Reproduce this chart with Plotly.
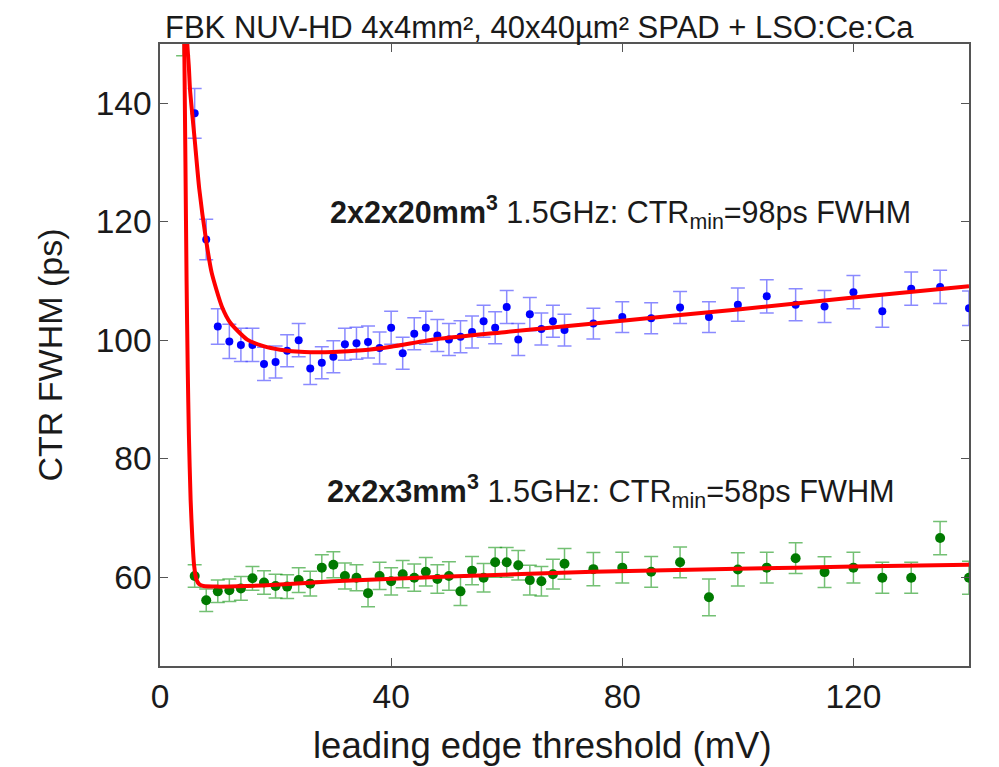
import plotly.graph_objects as go

# ---- data ----
# 2x2x20 mm^3 crystal (blue)
x_20 = [6, 8, 10, 12, 14, 16, 18, 20, 22, 24, 26, 28, 30, 32, 34, 36, 38, 40, 42, 44, 46, 48,
        50, 52, 54, 56, 58, 60, 62, 64, 66, 68, 70, 75, 80, 85, 90, 95, 100, 105, 110, 115,
        120, 125, 130, 135, 140]
y_20 = [138.3, 117.0, 102.3, 99.8, 99.2, 99.2, 96.0, 96.3, 98.2, 100.0, 95.2, 96.2, 97.2,
        99.3, 99.5, 99.7, 98.7, 102.1, 97.8, 101.1, 102.1, 100.8,
        100.1, 100.6, 101.4, 103.2, 102.1, 105.6, 100.1, 104.4, 101.9, 103.2, 101.7,
        102.8, 103.9, 103.7, 105.5, 103.9, 106.0, 107.4, 106.0, 105.7, 108.1, 104.9,
        108.7, 109.0, 105.4]
e_20 = [4.2, 3.4, 3.0, 2.9, 2.8, 2.8, 2.8, 2.7, 2.7, 2.8, 2.7, 2.7, 2.7, 2.7, 2.7, 2.7, 2.7,
        2.8, 2.7, 2.7, 2.8, 2.7, 2.7, 2.7, 2.7, 2.7, 2.7, 2.8, 2.7, 2.8, 2.7, 2.7, 2.7,
        2.6, 2.6, 2.6, 2.7, 2.6, 2.8, 2.8, 2.7, 2.7, 2.8, 2.7, 2.8, 2.8, 2.9]

# 2x2x3 mm^3 crystal (green)
x_3 = [4, 6, 8, 10, 12, 14, 16, 18, 20, 22, 24, 26, 28, 30, 32, 34, 36, 38, 40, 42, 44, 46, 48,
       50, 52, 54, 56, 58, 60, 62, 64, 66, 68, 70, 75, 80, 85, 90, 95, 100, 105, 110, 115,
       120, 125, 130, 135, 140]
y_3 = [156.0, 60.2, 56.1, 57.6, 57.8, 58.1, 59.8, 59.1, 58.5, 58.4, 59.5, 58.9, 61.6, 62.1,
       60.2, 59.9, 57.3, 60.2, 59.3, 60.5, 59.9, 60.9, 59.7,
       60.2, 57.6, 61.1, 59.9, 62.5, 62.5, 62.0, 59.5, 59.3, 60.5, 62.25,
       61.35, 61.6, 60.9, 62.5, 56.6, 61.3, 61.6, 63.2, 60.85, 61.6, 59.9, 59.9, 66.6, 59.9]
e_3 = [8.0, 1.9, 1.9, 1.9, 1.9, 2.0, 2.0, 2.0, 2.0, 2.0, 2.1, 2.1, 2.2, 2.2, 2.2, 2.2, 2.3,
       2.3, 2.3, 2.3, 2.3, 2.4, 2.4, 2.4, 2.4, 2.4, 2.4, 2.5, 2.5, 2.5, 2.5, 2.5, 2.5, 2.6,
       2.8, 2.6, 2.6, 2.6, 3.1, 2.8, 2.6, 2.6, 2.6, 2.6, 2.6, 2.6, 2.8, 2.8]

# fitted curves (red)
fx_20 = [4.6, 4.73, 5.0, 5.19, 5.6, 6.0, 6.8, 7.96, 8.94, 10.7, 12.2, 15.1, 17.9, 20.8, 25,
         30, 35, 40, 48, 60, 80, 100, 120, 140]
fy_20 = [156, 150, 146, 142.4, 138, 133.9, 125.5, 117, 111.4, 105.7, 102.9, 100.1, 99.0, 98.4,
         98.0, 98.0, 98.3, 98.9, 100.2, 101.4, 103.3, 105.2, 107.2, 109.1]
fx_3 = [4.15, 4.2, 4.4, 4.6, 4.8, 5.0, 5.3, 5.6, 5.9, 6.3, 6.8, 7.5, 10, 15, 20, 30, 50, 75,
        100, 120, 140]
fy_3 = [156, 150, 130, 110, 95, 84, 73, 66.5, 62, 59.6, 58.8, 58.5, 58.4, 58.5, 58.7, 59.3,
        60.1, 60.9, 61.4, 61.8, 62.1]

title_text = "FBK NUV-HD 4x4mm², 40x40µm² SPAD + LSO:Ce:Ca"
label_20 = "<b>2x2x20mm<sup>3</sup></b> 1.5GHz: CTR<sub>min</sub>=98ps FWHM"
label_3 = "<b>2x2x3mm<sup>3</sup></b> 1.5GHz: CTR<sub>min</sub>=58ps FWHM"
xlabel = "leading edge threshold (mV)"
ylabel = "CTR FWHM (ps)"

FONT = "Liberation Sans, Arial, sans-serif"
TXT = "#1a1a1a"

fig = go.Figure()

fig.add_trace(go.Scatter(
    x=x_20, y=y_20, mode="markers",
    marker=dict(color="#0000ff", size=8),
    error_y=dict(type="data", array=e_20, color="rgba(60,60,255,0.6)", thickness=1.5, width=7),
    showlegend=False))
fig.add_trace(go.Scatter(
    x=x_3, y=y_3, mode="markers",
    marker=dict(color="#007a00", size=10),
    error_y=dict(type="data", array=e_3, color="rgba(0,140,0,0.55)", thickness=1.5, width=7),
    showlegend=False))
fig.add_trace(go.Scatter(
    x=fx_20, y=fy_20, mode="lines", line=dict(color="#ff0000", width=4, shape="spline", smoothing=0.6),
    showlegend=False))
fig.add_trace(go.Scatter(
    x=fx_3, y=fy_3, mode="lines", line=dict(color="#ff0000", width=4, shape="spline", smoothing=0.6),
    showlegend=False))

fig.add_annotation(x=29.1, y=121.6, xref="x", yref="y", text=label_20, showarrow=False,
                   xanchor="left", yanchor="middle", font=dict(size=30.5, color=TXT, family=FONT))
fig.add_annotation(x=28.5, y=74.4, xref="x", yref="y", text=label_3, showarrow=False,
                   xanchor="left", yanchor="middle", font=dict(size=30.7, color=TXT, family=FONT))
# figure title, at the top edge of the drawing area
fig.add_annotation(xref="paper", yref="paper", x=(163 - 160) / 809, y=1 + 36 / 622,
                   text=title_text, showarrow=False, xanchor="left", yanchor="top",
                   font=dict(size=31, color=TXT, family=FONT))
# x-axis title (centred a little left of the plot centre, as in the reference)
fig.add_annotation(xref="paper", yref="paper", x=(542 - 160) / 809, y=-(745 - 666) / 622,
                   text=xlabel, showarrow=False, xanchor="center", yanchor="middle",
                   font=dict(size=36.5, color=TXT, family=FONT))

axis_common = dict(showgrid=False, zeroline=False, showline=True, linecolor="#555", linewidth=1.5,
                   mirror="ticks", ticks="inside", ticklen=8, tickwidth=1.2, tickcolor="#555",
                   automargin=False,
                   tickfont=dict(size=33.5, color=TXT, family=FONT))

# the page adds an 8px body margin, so margins are reduced by 8 on left/top
fig.update_layout(
    width=999, height=767,
    margin=dict(l=152, r=38, t=36, b=109),
    plot_bgcolor="white", paper_bgcolor="white",
    font=dict(family=FONT, color=TXT),
    xaxis=dict(range=[0, 140], tickvals=[0, 40, 80, 120], **axis_common),
    yaxis=dict(range=[45, 150], tickvals=[60, 80, 100, 120, 140],
               title=dict(text=ylabel, font=dict(size=34, family=FONT, color=TXT),
                          standoff=23),
               **axis_common),
)

fig.write_html("out.html")
